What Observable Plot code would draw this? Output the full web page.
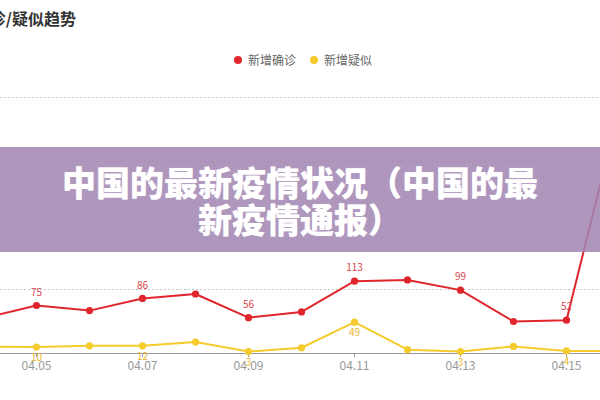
<!DOCTYPE html>
<html>
<head>
<meta charset="utf-8">
<script src="https://cdn.jsdelivr.net/npm/d3@7"></script>
<script src="https://cdn.jsdelivr.net/npm/@observablehq/plot@0.6"></script>
<style>
  html, body { margin: 0; padding: 0; background: #fff; overflow: hidden; }
  #wrap { position: relative; width: 600px; height: 400px; overflow: hidden; font-family: "Noto Sans CJK SC", "Noto Sans", sans-serif; }
  #chart { position: absolute; left: 0; top: 0; }
  #title { position: absolute; right: 524px; top: 6px; white-space: nowrap; font-size: 16px; font-weight: bold; color: #333; }
  #legend { position: absolute; top: 51px; left: 234px; font-size: 12px; color: #666; white-space: nowrap; display: flex; align-items: center; }
  #legend span.dot { display: inline-block; width: 8px; height: 8px; border-radius: 50%; margin-right: 6px; }
  #legend span.item { display: inline-flex; align-items: center; margin-right: 14px; }
  #banner { position: absolute; left: 0; top: 147px; width: 600px; height: 105px; background: rgba(161,133,177,0.86); color: #fff; text-align: center; font-weight: 900; font-size: 34px; line-height: 37px; box-sizing: border-box; padding-top: 16px; font-family: "Noto Sans CJK SC", sans-serif; text-shadow: 0 0 1px rgba(255,255,255,0.6); }
</style>
</head>
<body>
<div id="wrap">
  <div id="chart"></div>
  <div id="title"></div>
  <div id="legend"></div>
  <div id="banner"></div>
</div>
<script>
const chartTitle = "新增确诊/疑似趋势";
const bannerLines = ["中国的最新疫情状况（中国的最", "新疫情通报）"];
const seriesNames = ["新增确诊", "新增疑似"];
const seriesColors = ["#e0262d", "#f5cb2e"];
const dates = ["04.04","04.05","04.06","04.07","04.08","04.09","04.10","04.11","04.12","04.13","04.14","04.15","04.16"];
const confirmed = [55, 75, 67, 86, 93, 56, 65, 113, 115, 99, 50, 52, 385];
const suspected = [11, 10, 12, 12, 18, 3, 9, 49, 6, 3, 11, 4, 4];
const labeledDates = ["04.05","04.07","04.09","04.11","04.13","04.15"];
const yTicks = [100, 200, 300, 400];

const rows = dates.map((d, i) => ({date: d, confirmed: confirmed[i], suspected: suspected[i]}));
const labeledRows = rows.filter(r => labeledDates.includes(r.date));

const chart = Plot.plot({
  width: 600,
  height: 400,
  marginTop: 97,
  marginBottom: 47,
  marginLeft: 0,
  marginRight: 0,
  style: {background: "transparent", fontFamily: "'Noto Sans CJK SC', 'Noto Sans', sans-serif", overflow: "hidden"},
  x: {type: "point", domain: dates, range: [-19.4, 621.4], padding: 0},
  y: {domain: [0, 400], axis: null},
  marks: [
    Plot.gridY(yTicks, {stroke: "#c8c8c8", strokeOpacity: 1, strokeDasharray: "2,2"}),
    Plot.ruleY([0], {stroke: "#999", strokeWidth: 1}),
    Plot.axisX(labeledDates, {tickSize: 4, tickPadding: 4, color: "#999", fontSize: 12, label: null}),
    Plot.line(rows, {x: "date", y: "suspected", stroke: seriesColors[1], strokeWidth: 2}),
    Plot.dot(rows, {x: "date", y: "suspected", fill: seriesColors[1], r: 3.6}),
    Plot.line(rows, {x: "date", y: "confirmed", stroke: seriesColors[0], strokeWidth: 2}),
    Plot.dot(rows, {x: "date", y: "confirmed", fill: seriesColors[0], r: 3.6}),
    Plot.text(labeledRows, {x: "date", y: "confirmed", text: d => String(d.confirmed), dy: -13, fill: "#d8474c", fontSize: 10}),
    Plot.text(labeledRows, {x: "date", y: "suspected", text: d => String(d.suspected), dy: 11, fill: "#e8b52a", fontSize: 10})
  ]
});
document.getElementById("chart").appendChild(chart);

document.getElementById("title").textContent = chartTitle;
const legend = document.getElementById("legend");
seriesNames.forEach((name, i) => {
  const item = document.createElement("span");
  item.className = "item";
  const dot = document.createElement("span");
  dot.className = "dot";
  dot.style.background = seriesColors[i];
  item.appendChild(dot);
  item.appendChild(document.createTextNode(name));
  legend.appendChild(item);
});
const banner = document.getElementById("banner");
bannerLines.forEach(line => {
  const div = document.createElement("div");
  div.textContent = line;
  banner.appendChild(div);
});
</script>
</body>
</html>
